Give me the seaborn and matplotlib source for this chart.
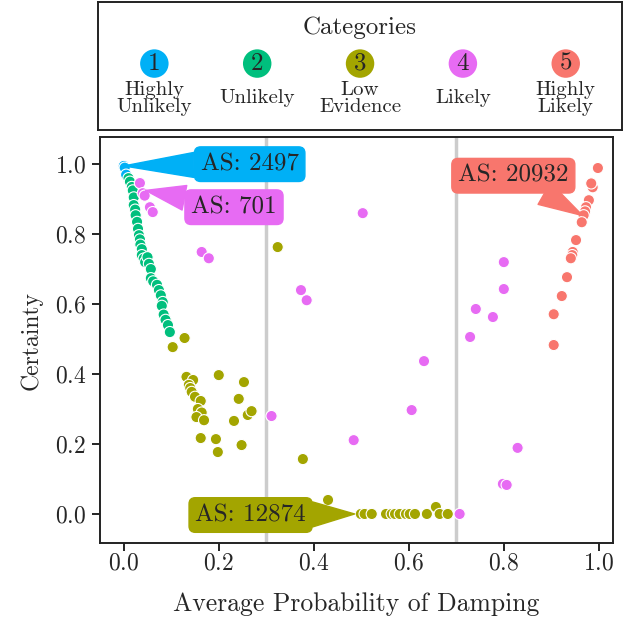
import numpy as np
import pandas as pd
import seaborn as sns
import matplotlib.pyplot as plt

# ---------- data ----------
cat_ids = [1, 2, 3, 4, 5]
cat_names = ["Highly\nUnlikely", "Unlikely", "Low\nEvidence", "Likely", "Highly\nLikely"]
cat_colors = ["#00B0F6", "#00BF7D", "#A3A500", "#E76BF3", "#F8766D"]

blue_x = [0.0, 0.002, 0.005]
blue_y = [0.995, 0.99, 0.97]

green_x = [0.010, 0.013, 0.017, 0.019, 0.021, 0.021, 0.024, 0.025, 0.028, 0.030,
           0.032, 0.034, 0.035, 0.038, 0.038, 0.042, 0.045, 0.050, 0.053, 0.057,
           0.057, 0.062, 0.070, 0.074, 0.078, 0.082, 0.080, 0.084, 0.088, 0.093, 0.097]
green_y = [0.960, 0.950, 0.935, 0.925, 0.905, 0.883, 0.870, 0.854, 0.835, 0.815,
           0.797, 0.785, 0.770, 0.757, 0.740, 0.730, 0.720, 0.734, 0.715, 0.700,
           0.674, 0.665, 0.655, 0.640, 0.625, 0.606, 0.595, 0.570, 0.555, 0.540, 0.520]

olive_x = [0.103, 0.128, 0.132, 0.146, 0.137, 0.140, 0.143, 0.150, 0.162, 0.156,
           0.164, 0.153, 0.169, 0.200, 0.253, 0.242, 0.261, 0.269, 0.232, 0.162,
           0.194, 0.198, 0.248, 0.324, 0.377, 0.430, 0.499, 0.507, 0.522, 0.552,
           0.564, 0.571, 0.581, 0.594, 0.602, 0.613, 0.638, 0.657, 0.665, 0.682]
olive_y = [0.477, 0.503, 0.392, 0.383, 0.369, 0.360, 0.349, 0.335, 0.323, 0.300,
           0.290, 0.277, 0.268, 0.397, 0.377, 0.329, 0.283, 0.294, 0.266, 0.217,
           0.214, 0.177, 0.197, 0.763, 0.157, 0.040, 0.0, 0.0, 0.0, 0.0,
           0.0, 0.0, 0.0, 0.0, 0.0, 0.0, 0.0, 0.020, 0.0, 0.0]

pink_x = [0.034, 0.040, 0.044, 0.055, 0.061, 0.164, 0.179, 0.503, 0.373, 0.385,
          0.800, 0.800, 0.741, 0.777, 0.729, 0.632, 0.606, 0.484, 0.829, 0.798,
          0.806, 0.311, 0.707]
pink_y = [0.946, 0.917, 0.910, 0.877, 0.863, 0.749, 0.731, 0.860, 0.640, 0.611,
          0.720, 0.643, 0.586, 0.563, 0.506, 0.437, 0.297, 0.211, 0.189, 0.086,
          0.083, 0.280, 0.0]

red_x = [0.998, 0.987, 0.984, 0.979, 0.973, 0.971, 0.968, 0.964, 0.952, 0.945,
         0.944, 0.941, 0.933, 0.922, 0.905, 0.905]
red_y = [0.989, 0.934, 0.945, 0.897, 0.877, 0.865, 0.854, 0.834, 0.783, 0.749,
         0.740, 0.731, 0.677, 0.623, 0.571, 0.483]

# callouts: label, point, text position, category
callout_text = ["AS: 2497", "AS: 701", "AS: 20932", "AS: 12874"]
callout_xy = [(0.0, 0.995), (0.046, 0.925), (0.966, 0.853), (0.486, 0.0)]
callout_xytext = [(0.265, 1.0), (0.232, 0.877), (0.82, 0.967), (0.267, -0.003)]
callout_cat = [1, 4, 5, 3]

xs = [blue_x, green_x, olive_x, pink_x, red_x]
ys = [blue_y, green_y, olive_y, pink_y, red_y]
df = pd.concat([pd.DataFrame({"x": a, "y": b, "cat": c}) for a, b, c in zip(xs, ys, cat_ids)],
               ignore_index=True)
palette = dict(zip(cat_ids, cat_colors))

# ---------- style ----------
sns.set_style("ticks")
plt.rcParams["font.family"] = ["cmr10", "DejaVu Serif"]
plt.rcParams["axes.formatter.use_mathtext"] = True
plt.rcParams["axes.linewidth"] = 1.4
plt.rcParams["xtick.major.width"] = 1.2
plt.rcParams["ytick.major.width"] = 1.2

fig = plt.figure(figsize=(6.35, 6.21), dpi=100)
ax = fig.add_axes([0.1575, 0.1256, 0.808, 0.6534])

ax.axvline(0.3, color="#cccccc", lw=2.5, zorder=0)
ax.axvline(0.7, color="#cccccc", lw=2.5, zorder=0)

sns.scatterplot(data=df, x="x", y="y", hue="cat", palette=palette, s=65,
                edgecolor="white", linewidth=0.8, legend=False, ax=ax, zorder=3)

for txt, xy, xyt, c in zip(callout_text, callout_xy, callout_xytext, callout_cat):
    col = palette[c]
    ax.annotate(txt, xy=xy, xytext=xyt, ha="center", va="center", fontsize=18, zorder=5,
                bbox=dict(boxstyle="round,pad=0.25", fc=col, ec=col),
                arrowprops=dict(arrowstyle="wedge,tail_width=1.0", fc=col, ec=col,
                                shrinkA=0, shrinkB=0))

ax.set_xlim(-0.05, 1.03)
ax.set_ylim(-0.083, 1.077)
ax.set_xticks([0.0, 0.2, 0.4, 0.6, 0.8, 1.0])
ax.set_yticks([0.0, 0.2, 0.4, 0.6, 0.8, 1.0])
ax.tick_params(labelsize=17, length=6, color="black")
ax.tick_params(axis="y", pad=4)
ax.tick_params(axis="x", pad=0.5)
ax.set_xlabel("Average Probability of Damping", fontsize=18.5, labelpad=13)
ax.set_ylabel("Certainty", fontsize=17, labelpad=9)
for sp in ax.spines.values():
    sp.set_color("#222222")

# ---------- legend panel ----------
lax = fig.add_axes([0.154, 0.79, 0.826, 0.207])
leg = pd.DataFrame({"pos": np.arange(len(cat_ids)), "y": 0.52, "cat": cat_ids})
sns.scatterplot(data=leg, x="pos", y="y", hue="cat", palette=palette, s=420,
                edgecolor="none", legend=False, ax=lax)
for i, (cid, name) in enumerate(zip(cat_ids, cat_names)):
    lax.text(i, 0.52, str(cid), ha="center", va="center", fontsize=18)
    lax.text(i, 0.25, name, ha="center", va="center", fontsize=15, linespacing=0.95)
lax.text(2, 0.80, "Categories", ha="center", va="center", fontsize=18)
lax.set_xlim(-0.55, 4.55)
lax.set_ylim(0, 1)
lax.set_xticks([])
lax.set_yticks([])
lax.set_xlabel("")
lax.set_ylabel("")
for sp in lax.spines.values():
    sp.set_color("#222222")
    sp.set_linewidth(1.4)

fig.savefig("out.png", dpi=100)
